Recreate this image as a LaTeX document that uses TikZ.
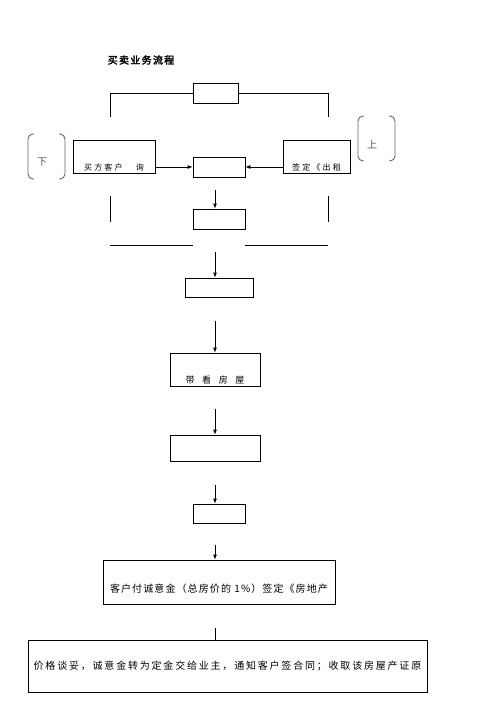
\documentclass[tikz,border=0pt]{standalone}
\usepackage{fontspec}
\newfontfamily\cjk[AutoFakeBold=2.5]{Noto Sans CJK SC}
\usepackage{tikz}
\usetikzlibrary{
	positioning,
	arrows.meta
}

\begin{document}
\begin{tikzpicture}[x=1pt,y=-1pt,
		box/.style={draw,rectangle,line width=0.8pt,inner sep=0pt},
		ln/.style={line width=0.8pt},
		arr/.style={line width=0.8pt,-{Latex[length=5pt,width=4pt]}},
		brk/.style={line width=0.9pt,gray!80!black,rounded corners=5pt},
		ttl/.style={inner sep=1pt,font=\cjk\bfseries\fontsize{10}{12}\selectfont\addfontfeature{LetterSpace=13}},
		side/.style={inner sep=1pt,gray!70!black,font=\cjk\fontsize{10}{12}\selectfont},
		small/.style={inner sep=1pt,font=\cjk\fontsize{8}{10}\selectfont\addfontfeature{LetterSpace=28}},
		wide/.style={inner sep=1pt,font=\cjk\fontsize{9}{10}\selectfont\addfontfeature{LetterSpace=85}},
		body/.style={inner sep=1pt,font=\cjk\fontsize{10}{12}\selectfont\addfontfeature{LetterSpace=11}},
		long/.style={font=\cjk\fontsize{10}{12}\selectfont\addfontfeature{LetterSpace=18}}
	]
	\useasboundingbox (0,0) rectangle (496,702);

	\node[ttl] (title) at (141,60) {买卖业务流程};

	\draw
		node[box,minimum width=45pt,minimum height=20pt]  (t0) at (215.5,93)  {}
		node[box,minimum width=82pt,minimum height=33pt]  (lb) at (114,156.5) {}
		node[box,minimum width=52pt,minimum height=20pt]  (c1) at (219,167)   {}
		node[box,minimum width=67pt,minimum height=33pt]  (rb) at (316.5,156.5) {}
		node[box,minimum width=52pt,minimum height=20pt]  (b2) at (219,219)   {}
		node[box,minimum width=68pt,minimum height=19pt]  (b3) at (219,287.5) {}
		node[box,minimum width=90pt,minimum height=33pt]  (b4) at (215,369.5) {}
		node[box,minimum width=90pt,minimum height=26pt]  (b5) at (215,448)   {}
		node[box,minimum width=52pt,minimum height=19pt]  (b6) at (219,513.5) {}
		node[box,minimum width=232pt,minimum height=44pt] (b7) at (219,582)   {}
		node[box,long,minimum width=399pt,minimum height=52pt] (b8) at (227.5,666)
			{价格谈妥，诚意金转为定金交给业主，通知客户签合同；收取该房屋产证原}
	;

	% texts at the foot of the boxes
	\node[small,above=1pt of lb.south] (lbt) {买方客户\hspace{3pt}　询};
	\node[small,above=1pt of rb.south] (rbt) {签定《出租};
	\node[wide,above=1pt of b4.south]  (b4t) {带看房屋};
	\node[body,above=10pt of b7.south] (b7t) {客户付诚意金（总房价的 1\%）签定《房地产};

	% brackets
	\node[side] (dn) at (42,162) {下};
	\node[side] (up) at (372,145) {上};
	\draw[brk] (34,134) -- (28,134) -- (28,179) -- (34,179);
	\draw[brk] (59,134) -- (65,134) -- (65,179) -- (59,179);
	\draw[brk] (364,116) -- (358,116) -- (358,161) -- (364,161);
	\draw[brk] (389,116) -- (395,116) -- (395,161) -- (389,161);

	% frame lines
	\coordinate (tl) at (110,117);
	\coordinate (tr) at (328,117);
	\draw[ln] (t0.west) -| (tl);
	\draw[ln] (t0.east) -| (tr);
	\draw[ln] (110,196) -- (110,222);
	\draw[ln] (328,196) -- (328,222);
	\draw[ln] (110,245) -- (b2.west |- 0,245);
	\draw[ln] (b2.east |- 0,245) -- (328,245);

	% arrows
	\draw[arr] (lb.east |- c1.west) -- (c1.west);
	\draw[arr] (rb.west |- c1.east) -- (c1.east);
	\coordinate (s1) at (215,190);
	\coordinate (s2) at (215,252);
	\coordinate (s3) at (215,321);
	\coordinate (s4) at (215,409);
	\coordinate (s5) at (215,485);
	\coordinate (s6) at (215,545);
	\coordinate (s7) at (215,628);
	\draw[arr] (s1) -- (s1 |- b2.north);
	\draw[arr] (s2) -- (s2 |- b3.north);
	\draw[arr] (s3) -- (s3 |- b4.north);
	\draw[arr] (s4) -- (s4 |- b5.north);
	\draw[arr] (s5) -- (s5 |- b6.north);
	\draw[arr] (s6) -- (s6 |- b7.north);
	\draw[ln]  (s7) -- (s7 |- b8.north);
\end{tikzpicture}
\end{document}
